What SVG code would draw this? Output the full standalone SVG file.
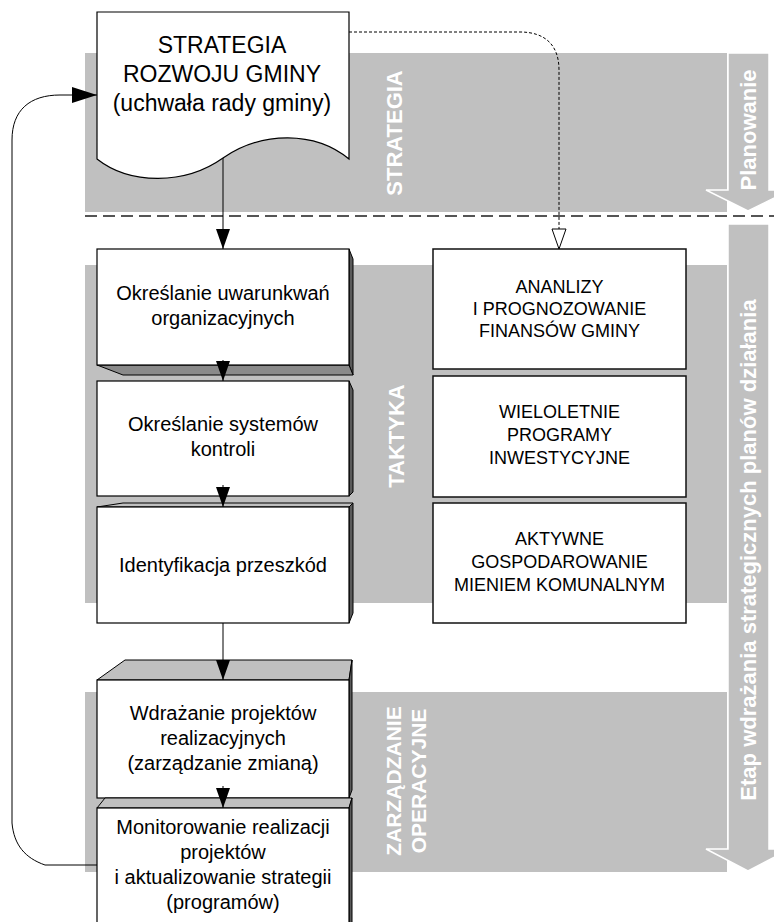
<svg xmlns="http://www.w3.org/2000/svg" width="774" height="922" viewBox="0 0 774 922">
<style>
.band{fill:#c0c0c0}
.bigarrow{fill:#c0c0c0;stroke:#fff;stroke-width:1.5}
.lbl{font-family:"Liberation Sans",Arial,sans-serif;font-weight:bold;fill:#fff;text-anchor:middle;dominant-baseline:central}
.t{font-family:"Liberation Sans",Arial,sans-serif;fill:#000;text-anchor:middle}
.front{fill:#fff;stroke:#000;stroke-width:1.2}
.topf{fill:#c0c0c0;stroke:#000;stroke-width:1}
.botf{fill:#8a8a8a;stroke:#000;stroke-width:1}
.side{fill:#5a5a5a;stroke:#000;stroke-width:1}
.rbox{fill:#fff;stroke:#111;stroke-width:1.5}
.conn{fill:none;stroke:#000;stroke-width:1}
</style>
<defs>
<marker id="ah" markerUnits="userSpaceOnUse" markerWidth="20" markerHeight="14" refX="20" refY="7" orient="auto">
<path d="M0,0 L20,7 L0,14 z" fill="#000"/>
</marker>
<marker id="ahL" markerUnits="userSpaceOnUse" markerWidth="25" markerHeight="16" refX="25" refY="8" orient="auto">
<path d="M0,0 L25,8 L0,16 z" fill="#000"/>
</marker>
<marker id="ahO" markerUnits="userSpaceOnUse" markerWidth="22" markerHeight="16" refX="21" refY="8" orient="auto">
<path d="M1,1 L21,8 L1,15 z" fill="#fff" stroke="#000" stroke-width="1"/>
</marker>
</defs>

<g id="bands">
<rect class="band" x="85" y="53" width="642" height="159"/>
<rect class="band" x="85" y="265" width="642" height="338"/>
<rect class="band" x="85" y="692" width="642" height="180"/>
<line x1="85" y1="216" x2="774" y2="216" stroke="#555" stroke-width="2" stroke-dasharray="12 6"/>
<text class="lbl" font-size="22" transform="translate(394,133) rotate(-90)">STRATEGIA</text>
<text class="lbl" font-size="22" transform="translate(396,436) rotate(-90)">TAKTYKA</text>
<text class="lbl" font-size="21" transform="translate(393.5,781) rotate(-90)">ZARZĄDZANIE</text>
<text class="lbl" font-size="21" transform="translate(418.5,781) rotate(-90)">OPERACYJNE</text>
</g>

<g id="arrow-planowanie">
<polygon class="bigarrow" points="728,53 769,53 769,190 790,190 748,211 706,190 728,190"/>
<text class="lbl" font-size="22" transform="translate(748,130) rotate(-90)">Planowanie</text>
</g>
<g id="arrow-etap">
<polygon class="bigarrow" points="728,224 769,224 769,849 790,849 748,871 706,849 728,849"/>
<text class="lbl" font-size="22" transform="translate(748,550) rotate(-90)">Etap wdrażania strategicznych planów działania</text>
</g>

<g id="strategia-doc">
<path class="front" d="M97,12 H349 V159 C315,131 262,131 223,158 C185,185 130,185 97,159 Z"/>
<text class="t" font-size="23" x="222" y="53">STRATEGIA</text>
<text class="t" font-size="23" x="222" y="82">ROZWOJU GMINY</text>
<text class="t" font-size="23" x="222" y="111">(uchwała rady gminy)</text>
</g>

<g id="box-uwarunkowania">
<polygon class="side" points="349,249 353,259 353,375 349,365"/>
<polygon class="botf" points="97,365 349,365 353,375 123,375"/>
<rect class="front" x="97" y="249" width="252" height="116"/>
<text class="t" font-size="20" x="223" y="300">Określanie uwarunkwań</text>
<text class="t" font-size="20" x="223" y="325">organizacyjnych</text>
</g>

<g id="box-kontrola">
<polygon class="side" points="349,381 353,390 353,492 349,496"/>
<rect class="front" x="97" y="381" width="252" height="115"/>
<text class="t" font-size="20" x="223" y="431">Określanie systemów</text>
<text class="t" font-size="20" x="223" y="456">kontroli</text>
</g>

<g id="box-przeszkody">
<polygon class="topf" points="97,507 123,503 353,503 349,507"/>
<polygon class="side" points="349,507 353,503 353,613 349,623"/>
<rect class="front" x="97" y="507" width="252" height="116"/>
<text class="t" font-size="20" x="223" y="572">Identyfikacja przeszkód</text>
</g>

<g id="box-wdrazanie">
<polygon class="topf" points="97,680 125,660 352,660 349,680"/>
<polygon class="side" points="349,680 352,660 352,790 349,798"/>
<rect class="front" x="97" y="680" width="252" height="118"/>
<text class="t" font-size="20" x="223" y="720">Wdrażanie projektów</text>
<text class="t" font-size="20" x="223" y="745">realizacyjnych</text>
<text class="t" font-size="20" x="223" y="770">(zarządzanie zmianą)</text>
</g>

<g id="box-monitorowanie">
<polygon class="topf" points="97,808 105,798 352,798 349,808"/>
<polygon class="side" points="349,808 352,798 352,930 349,930"/>
<rect class="front" x="97" y="808" width="252" height="130"/>
<text class="t" font-size="20" x="223" y="834">Monitorowanie realizacji</text>
<text class="t" font-size="20" x="223" y="859">projektów</text>
<text class="t" font-size="20" x="223" y="884">i aktualizowanie strategii</text>
<text class="t" font-size="20" x="223" y="909">(programów)</text>
</g>

<g id="box-analizy">
<rect class="rbox" x="433" y="249" width="253" height="120"/>
<text class="t" font-size="18" x="559.5" y="293">ANANLIZY</text>
<text class="t" font-size="18" x="559.5" y="315">I PROGNOZOWANIE</text>
<text class="t" font-size="18" x="559.5" y="337">FINANSÓW GMINY</text>
</g>

<g id="box-programy">
<rect class="rbox" x="433" y="376" width="253" height="121"/>
<text class="t" font-size="18" x="559.5" y="418">WIELOLETNIE</text>
<text class="t" font-size="18" x="559.5" y="441">PROGRAMY</text>
<text class="t" font-size="18" x="559.5" y="464">INWESTYCYJNE</text>
</g>

<g id="box-mienie">
<rect class="rbox" x="433" y="503" width="253" height="120"/>
<text class="t" font-size="18" x="559.5" y="545">AKTYWNE</text>
<text class="t" font-size="18" x="559.5" y="568">GOSPODAROWANIE</text>
<text class="t" font-size="18" x="559.5" y="591">MIENIEM KOMUNALNYM</text>
</g>

<g id="connectors">
<line class="conn" x1="223" y1="158" x2="223" y2="249" marker-end="url(#ah)"/>
<line class="conn" x1="223" y1="360" x2="223" y2="381" marker-end="url(#ah)"/>
<line class="conn" x1="223" y1="485" x2="223" y2="507" marker-end="url(#ah)"/>
<line class="conn" x1="223" y1="623" x2="223" y2="680" marker-end="url(#ah)"/>
<line class="conn" x1="223" y1="786" x2="223" y2="808" marker-end="url(#ah)"/>
<path class="conn" d="M97,865 H45 C25,858 14,845 12,823 V140 C12,110 30,95 60,95 H97" marker-end="url(#ahL)"/>
<path class="conn" d="M349,32 H520 C545,32 559,45 559,70 V249" stroke-dasharray="3 2" marker-end="url(#ahO)"/>
</g>
</svg>
